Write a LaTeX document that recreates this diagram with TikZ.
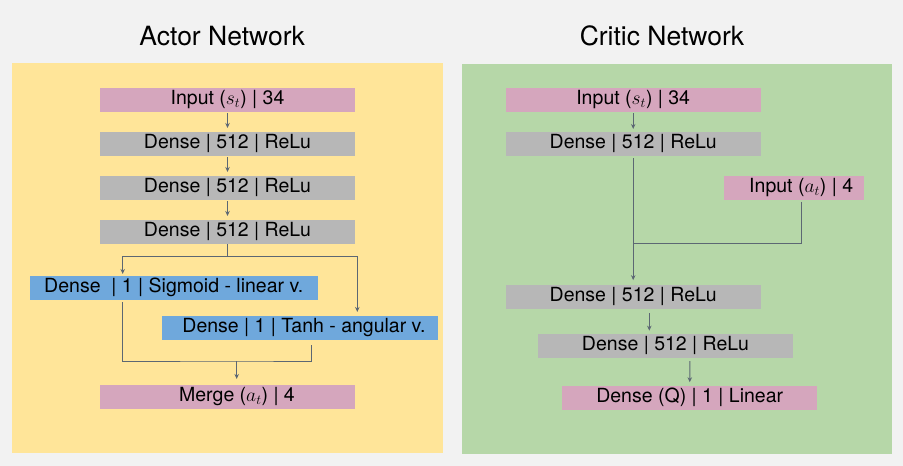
\documentclass[tikz,border=0pt]{standalone}
\usepackage{fix-cm}
\usepackage{fontspec}
\setmainfont{TeX Gyre Heros}
\usetikzlibrary{arrows.meta,calc}
\definecolor{bgc}{HTML}{F2F2F2}
\definecolor{ylw}{HTML}{FFE599}
\definecolor{grn}{HTML}{B6D7A8}
\definecolor{pnk}{HTML}{D5A6BD}
\definecolor{gry}{HTML}{B7B7B7}
\definecolor{blu}{HTML}{6FA8DC}
\definecolor{lnc}{HTML}{5C6773}
\tikzset{
  layer/.style={rectangle, inner xsep=0pt, inner ysep=0pt, minimum height=23.7pt,
    text height=14pt, text depth=5.4pt, font=\fontsize{19.5}{23}\selectfont, text=black},
  pinkbox/.style={layer, fill=pnk},
  graybox/.style={layer, fill=gry},
  bluebox/.style={layer, fill=blu},
  panel/.style={fill=#1, draw=none},
  title/.style={anchor=base, font=\fontsize{26.5}{30}\selectfont, text=black},
  wire/.style={draw=lnc, line width=1pt},
  arr/.style={wire, -{Stealth[length=5pt,width=4.5pt]}}
}
\begin{document}
\begin{tikzpicture}[x=1pt,y=-1pt]
\useasboundingbox (0,0) rectangle (903,466);
\fill[bgc] (0,0) rectangle (903,466);
% panels
\path[panel=ylw] (12,63) rectangle (443,452.5);
\path[panel=grn] (461.5,64) rectangle (892,454);
% titles
\node[title] (tact) at (222.2,45.7) {Actor Network};
\node[title] (tcri) at (662,45.7) {Critic Network};

% ---------- Actor ----------
\node[pinkbox, minimum width=255pt] (ain) at (227.5,100) {Input ($s_t$) | 34};
\node[graybox, minimum width=255pt] (ad1) at (227.5,144) {Dense | 512 | ReLu};
\node[graybox, minimum width=255pt] (ad2) at (227.5,188) {Dense | 512 | ReLu};
\node[graybox, minimum width=255pt] (ad3) at (227.5,232) {Dense | 512 | ReLu};
\node[bluebox, minimum width=288pt] (asig) at (173.8,288) {Dense \ | 1 | Sigmoid - linear v.};
\node[bluebox, minimum width=276pt] (atanh) at (300,328) {\hspace*{8pt}Dense | 1 | Tanh - angular v.};
\node[pinkbox, minimum width=255pt] (amerge) at (227.5,397) {\hspace*{19pt}Merge ($a_t$) | 4};

\draw[arr, shorten <=1pt, shorten >=4pt] (ain) -- (ad1);
\draw[arr, shorten <=1pt, shorten >=4pt] (ad1) -- (ad2);
\draw[arr, shorten <=1pt, shorten >=4pt] (ad2) -- (ad3);
\coordinate (asplit) at (227.5,256);
\draw[wire] (ad3.south) -- (asplit);
\draw[arr, shorten >=2pt] (asplit) -| ([xshift=-51.1pt]asig.north);
\draw[arr, shorten >=4pt] (asplit) -| ([xshift=57.3pt]atanh.north);
\coordinate (amj) at (236.7,361);
\draw[wire, shorten <=2pt, shorten >=5pt] ([xshift=-51.1pt]asig.south) |- (amj) -| ([xshift=11pt]atanh.south);
\draw[arr, shorten >=6pt] (amj) -- (amj |- amerge.north);

% ---------- Critic ----------
\node[pinkbox, minimum width=255pt] (cin) at (633.2,100.3) {Input ($s_t$) | 34};
\node[graybox, minimum width=255pt] (cd1) at (633.2,144.3) {Dense | 512 | ReLu};
\node[pinkbox, minimum width=140.3pt] (cina) at (794.2,188) {\hspace*{14pt}Input ($a_t$) | 4};
\node[graybox, minimum width=255pt] (cd2) at (633.2,297.2) {Dense | 512 | ReLu};
\node[graybox, minimum width=255pt] (cd3) at (665.5,346) {Dense | 512 | ReLu};
\node[pinkbox, minimum width=254.7pt] (cq) at (689.7,398) {Dense (Q) | 1 | Linear};

\draw[arr, shorten <=1pt, shorten >=3.3pt] (cin) -- (cd1);
\draw[arr, shorten <=2pt, shorten >=5pt] (cd1) -- (cd2);
\coordinate (cj) at (633.2,243);
\draw[wire, shorten <=1.5pt] ([xshift=7.5pt]cina.south) |- (cj);
\draw[arr, shorten <=4pt, shorten >=3.3pt] ([xshift=16.1pt]cd2.south) -- ([xshift=-16.2pt]cd3.north);
\draw[arr, shorten <=3pt, shorten >=3.7pt] ([xshift=24.5pt]cd3.south) -- (cq.north);
\end{tikzpicture}
\end{document}
